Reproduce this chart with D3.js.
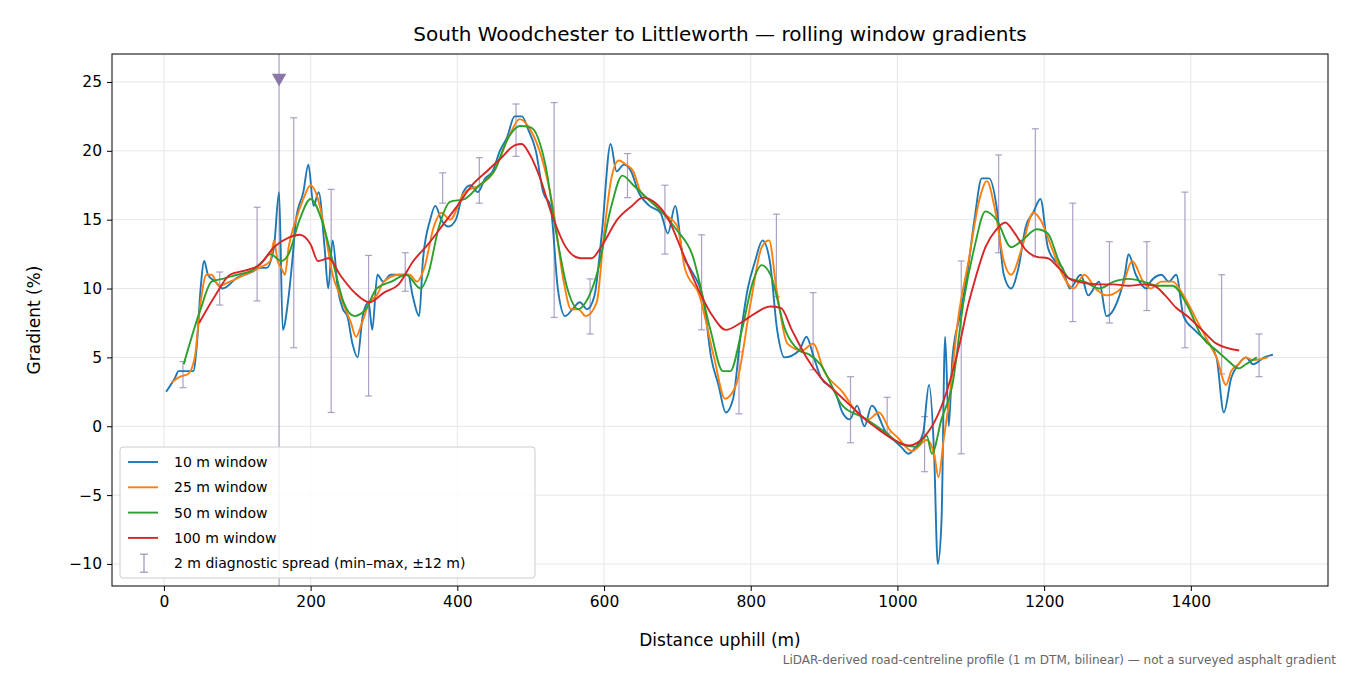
<!DOCTYPE html>
<html><head><meta charset="utf-8">
<script src="https://cdn.jsdelivr.net/npm/d3@7"></script>
<style>body{margin:0;background:#fff} svg text{font-family:'DejaVu Sans',sans-serif}</style>
</head><body><svg id="chart"></svg>
<script>
const w10 = [[3,2.5],[15,3.5],[20,4],[30,4],[40,4],[45,6],[50,10],[55,12],[60,11],[70,10.5],[80,10],[100,10.8],[120,11.2],[130,11.5],[140,11.5],[150,13],[157,17],[162,7],[169,9],[175,12],[180,15],[190,17],[197,19],[204,16],[211,17],[219,13],[224,10],[230,13.5],[237,10],[244,8.5],[250,8],[257,6],[264,5],[271,8],[279,9],[284,7],[291,11],[299,10.5],[309,11],[319,11],[333,11],[339,9.5],[348,8],[353,12],[363,15],[370,16],[378,15],[388,14.5],[398,15],[408,17],[418,17.5],[428,17],[438,18],[448,18.5],[458,20],[468,21],[478,22.5],[488,22.5],[497,21.5],[507,20],[517,17],[527,16],[537,10],[547,8],[557,8.5],[567,9],[577,8.5],[587,9.5],[597,14],[609,20.5],[617,18.5],[627,19],[637,18.5],[647,17],[662,16],[677,15.5],[687,14],[697,16],[707,12.5],[717,11.5],[736,9],[746,5],[756,3],[766,1],[776,2],[786,6.5],[796,10],[806,12],[816,13.5],[826,12],[836,7],[846,5],[866,5.5],[876,6.5],[886,5],[896,3.5],[915,2.5],[925,1],[935,0.5],[945,1.5],[955,0],[965,1.5],[985,-0.5],[995,-1],[1005,-1.5],[1015,-2],[1025,-1.5],[1035,-0.5],[1043,3],[1050,-2],[1055,-10],[1060,-7],[1065,6.5],[1070,0],[1075,5],[1085,8],[1095,11],[1105,15],[1115,18],[1125,18],[1135,16],[1145,11],[1155,10],[1165,11.5],[1175,14.5],[1185,15.5],[1195,16.5],[1205,13],[1215,12],[1225,11.5],[1235,10],[1250,11],[1260,9.5],[1275,10.5],[1285,8],[1295,8.5],[1310,11],[1315,12.5],[1325,11],[1340,10],[1345,10.5],[1360,11],[1370,10.5],[1380,11],[1390,8],[1405,7],[1415,6.5],[1425,6],[1435,5],[1445,1],[1455,3.5],[1465,4.5],[1475,5],[1485,4.5],[1500,5],[1512,5.2]];
const w25 = [[11,3.2],[22,3.6],[33,3.8],[42,5],[50,9],[58,11],[65,11],[75,10.2],[90,10.5],[110,11],[130,11.5],[145,12],[150,13.5],[155,12],[160,11.5],[165,11],[170,13],[180,15],[190,16.5],[200,17.5],[210,16.5],[220,14],[230,11],[240,9.5],[255,7.5],[262,6.5],[270,7.5],[280,9],[290,9.5],[300,10.5],[320,11],[335,11],[345,10.5],[355,11.5],[368,14.5],[378,15.5],[390,15],[410,17],[430,17.5],[450,18.5],[470,21],[485,22.3],[500,21.5],[515,19.5],[530,16],[545,10.5],[555,8.5],[565,8.5],[575,8],[590,9],[600,14],[610,18],[620,19.3],[630,19],[640,18.5],[650,17],[665,16.3],[680,15.5],[700,14.5],[710,11.5],[730,9.5],[750,5],[765,2],[780,3],[800,9],[815,13],[825,13.5],[835,10],[850,6],[870,5.5],[885,6],[900,4],[925,2.5],[945,1],[960,0.5],[975,1],[990,-0.3],[1000,-0.8],[1020,-1.8],[1040,-1],[1050,-2],[1056,-3.7],[1063,-1],[1072,2.5],[1082,7.5],[1097,12],[1112,16.5],[1122,17.8],[1132,16],[1145,12],[1155,11],[1170,13],[1185,15.5],[1195,15],[1210,13],[1225,11],[1240,10],[1255,11],[1270,10],[1285,9.5],[1305,10],[1320,12],[1335,10.5],[1345,10],[1360,10.5],[1375,10.5],[1390,9.5],[1410,7.5],[1425,6],[1435,5],[1448,3],[1455,4],[1465,4.5],[1475,5],[1485,4.8],[1505,5]];
const w50 = [[27,4.5],[50,8.5],[65,10.5],[80,10.7],[100,11],[120,11.3],[135,12],[145,12.5],[160,12],[170,12.5],[185,15],[200,16.5],[215,15],[230,12],[245,9],[260,8],[275,8.5],[290,10],[310,10.5],[330,11],[350,10],[360,11],[375,14.5],[390,16.3],[410,16.5],[430,17.5],[450,18.5],[470,21],[485,21.8],[500,21.7],[520,19],[535,14],[550,10],[565,8.5],[575,9],[590,11],[610,16],[625,18.2],[640,17.5],[660,16.5],[680,15.5],[700,14.2],[720,12.5],[745,7],[762,4],[772,4],[788,7],[803,10.5],[815,11.7],[827,11],[847,7],[866,5.5],[880,5.2],[895,4.5],[925,1.5],[955,0.6],[985,-0.5],[1005,-1.3],[1025,-1.5],[1040,-0.7],[1047,-2],[1060,0.5],[1075,3],[1090,9],[1105,13],[1120,15.6],[1135,15],[1155,13],[1170,13.5],[1190,14.3],[1205,14],[1220,12],[1235,10.7],[1255,10.5],[1275,10],[1295,10.5],[1315,10.7],[1335,10.5],[1355,10.2],[1375,10.2],[1395,8.8],[1415,6.5],[1435,5.5],[1450,4.8],[1465,4.2],[1475,4.5],[1490,5]];
const w100 = [[48,7.5],[70,9.5],[90,11],[110,11.3],[130,11.7],[150,13],[170,13.7],[185,13.9],[200,13.2],[210,12],[225,12.2],[240,11],[260,9.7],[280,9],[300,9.7],[320,10.3],[340,12],[360,13.2],[380,14.6],[400,16],[420,17.5],[440,18.5],[460,19.5],[478,20.4],[488,20.5],[498,19.8],[513,18],[528,15.5],[548,13],[568,12.2],[583,12.2],[598,13.2],[618,15],[638,16],[653,16.6],[668,16.3],[688,15],[708,12.5],[728,10],[748,8],[766,7],[786,7.5],[806,8.2],[826,8.7],[841,8.6],[856,7],[876,5],[896,3.5],[916,2.5],[936,1.5],[956,0.5],[976,-0.3],[996,-1],[1016,-1.4],[1036,-0.8],[1055,0.8],[1070,3],[1085,6],[1095,8.5],[1105,10.5],[1120,13],[1135,14.3],[1147,14.8],[1160,14],[1175,12.8],[1190,12.3],[1205,12.2],[1220,11.5],[1235,10.7],[1255,10.4],[1275,10.3],[1295,10.3],[1315,10.2],[1335,10.3],[1350,10.2],[1365,9.5],[1380,8.6],[1395,8],[1415,7],[1435,6],[1466,5.5]];
// 2 m diagnostic spread: [distance, min, max]
const spread = [[26,2.8,4.7],[76,8.8,11.2],[127,9.1,15.9],[157,-12,32],[177,5.7,22.4],[228,1.0,17.2],[279,2.2,12.4],[329,9.8,12.6],[380,16.2,18.4],[430,16.2,19.5],[480,19.6,23.4],[532,7.9,23.5],[581,6.7,10.7],[632,16.6,19.8],[683,12.5,17.5],[733,7.0,13.9],[784,0.9,5.4],[835,9.4,15.4],[885,4.1,9.7],[936,-1.2,3.6],[986,-0.5,2.1],[1037,-3.3,0.7],[1087,-2.0,12.0],[1138,12.6,19.7],[1188,12.3,21.6],[1239,7.6,16.2],[1289,7.5,13.4],[1340,8.4,13.4],[1392,5.7,17.0],[1442,3.8,11.0],[1493,3.6,6.7]];
const seriesNames = ["10 m window","25 m window","50 m window","100 m window"];
const seriesColors = ["#1f77b4","#ff7f0e","#2ca02c","#d62728"];
const yTicks = [-10,-5,0,5,10,15,20,25];
const xTicks = [0,200,400,600,800,1000,1200,1400];

const W = 1350, H = 675;
const margin = {left:112, right:22, top:54, bottom:89};
const iw = W - margin.left - margin.right, ih = H - margin.top - margin.bottom;
const svg = d3.select("#chart").attr("width", W).attr("height", H);
const g = svg.append("g").attr("transform", `translate(${margin.left},${margin.top})`);

const x = d3.scaleLinear().domain([-70.8, 1587]).range([0, iw]);
const y = d3.scaleLinear().domain([-11.6, 27.03]).range([ih, 0]);

// grid
g.append("g").selectAll("line").data(xTicks).enter().append("line")
  .attr("x1", d => x(d)).attr("x2", d => x(d)).attr("y1", 0).attr("y2", ih)
  .attr("stroke", "#e6e6e6").attr("stroke-width", 1);
g.append("g").selectAll("line").data(yTicks).enter().append("line")
  .attr("y1", d => y(d)).attr("y2", d => y(d)).attr("x1", 0).attr("x2", iw)
  .attr("stroke", "#e6e6e6").attr("stroke-width", 1);

svg.append("clipPath").attr("id", "clip").append("rect").attr("width", iw).attr("height", ih);
const plot = g.append("g").attr("clip-path", "url(#clip)");

// spread bars
const ec = "#9d8fbb";
const eb = plot.append("g").attr("stroke", ec).attr("stroke-opacity", 0.85).attr("stroke-width", 1.2);
spread.forEach(d => {
  eb.append("line").attr("x1", x(d[0])).attr("x2", x(d[0])).attr("y1", y(d[1])).attr("y2", y(d[2]));
  if (d[2] < 27) eb.append("line").attr("x1", x(d[0]) - 3.5).attr("x2", x(d[0]) + 3.5).attr("y1", y(d[2])).attr("y2", y(d[2]));
  else plot.append("path").attr("d", d3.symbol(d3.symbolTriangle, 90)())
    .attr("transform", `translate(${x(d[0])},${y(25.3)}) rotate(180)`).attr("fill", "#8a76a8");
  if (d[1] > -11.6) eb.append("line").attr("x1", x(d[0]) - 3.5).attr("x2", x(d[0]) + 3.5).attr("y1", y(d[1])).attr("y2", y(d[1]));
});

const line = d3.line().x(d => x(d[0])).y(d => y(d[1])).curve(d3.curveMonotoneX);
[w10, w25, w50, w100].forEach((s, i) => {
  plot.append("path").datum(s).attr("d", line).attr("fill", "none")
    .attr("stroke", seriesColors[i]).attr("stroke-width", 1.9).attr("stroke-linejoin", "round");
});

// axes
const xAxis = d3.axisBottom(x).tickValues(xTicks).tickSize(5).tickPadding(5).tickFormat(d3.format("d"));
const yAxis = d3.axisLeft(y).tickValues(yTicks).tickSize(5).tickPadding(5).tickFormat(d => d < 0 ? "\u2212" + Math.abs(d) : d);
const xg = g.append("g").attr("transform", `translate(0,${ih})`).call(xAxis);
const yg = g.append("g").call(yAxis);
[xg, yg].forEach(a => { a.attr("font-family", null).attr("font-size", null);
  a.selectAll("text").attr("font-size", 15.5).attr("fill", "#000"); a.select(".domain").remove(); });
g.append("rect").attr("width", iw).attr("height", ih).attr("fill", "none").attr("stroke", "#000").attr("stroke-width", 1);

svg.append("text").attr("x", margin.left + iw / 2).attr("y", 41).attr("text-anchor", "middle")
  .attr("font-size", 20).text("South Woodchester to Littleworth \u2014 rolling window gradients");
svg.append("text").attr("x", margin.left + iw / 2).attr("y", 646).attr("text-anchor", "middle")
  .attr("font-size", 17).text("Distance uphill (m)");
svg.append("text").attr("transform", `translate(40,${margin.top + ih / 2}) rotate(-90)`).attr("text-anchor", "middle")
  .attr("font-size", 17).text("Gradient (%)");
svg.append("text").attr("x", 1336).attr("y", 664).attr("text-anchor", "end").attr("font-size", 12)
  .attr("fill", "#666").text("LiDAR-derived road-centreline profile (1 m DTM, bilinear) \u2014 not a surveyed asphalt gradient");

// legend
const lg = svg.append("g").attr("transform", "translate(120,447)");
lg.append("rect").attr("width", 415).attr("height", 131).attr("rx", 3).attr("fill", "#fff").attr("fill-opacity", 0.85).attr("stroke", "#ccc");
seriesNames.forEach((n, i) => {
  const yy = 15 + i * 25.3;
  lg.append("line").attr("x1", 8).attr("x2", 38).attr("y1", yy).attr("y2", yy).attr("stroke", seriesColors[i]).attr("stroke-width", 1.9);
  lg.append("text").attr("x", 54).attr("y", yy + 5).attr("font-size", 14).text(n);
});
const ly = 15 + 4 * 25.3;
lg.append("line").attr("x1", 24).attr("x2", 24).attr("y1", ly - 9).attr("y2", ly + 9).attr("stroke", ec).attr("stroke-width", 1.2);
[ly - 9, ly + 9].forEach(v => lg.append("line").attr("x1", 20).attr("x2", 28).attr("y1", v).attr("y2", v).attr("stroke", ec).attr("stroke-width", 1.2));
lg.append("text").attr("x", 54).attr("y", ly + 5).attr("font-size", 14).text("2 m diagnostic spread (min\u2013max, \u00b112 m)");
</script></body></html>
